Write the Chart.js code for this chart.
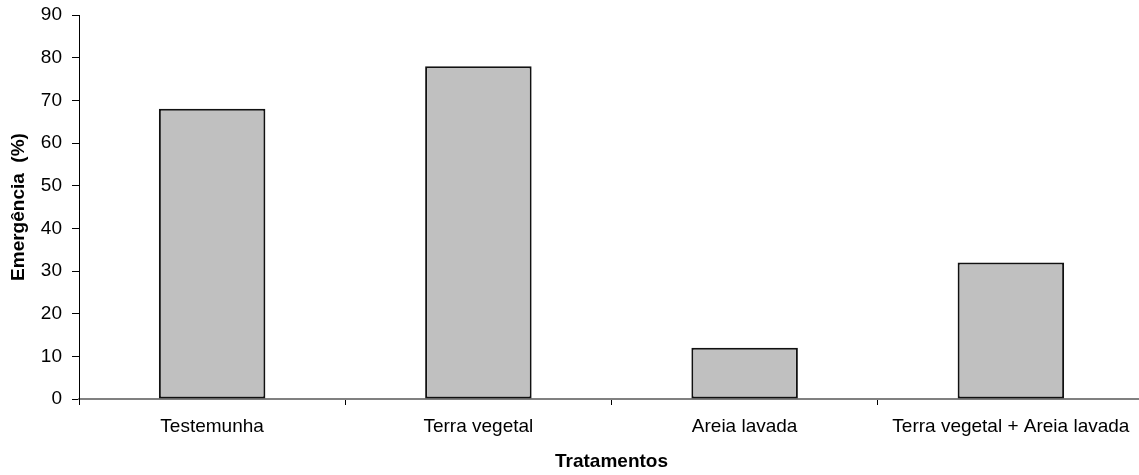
<!DOCTYPE html>
<html>
<head>
<meta charset="utf-8">
<script src="https://cdn.jsdelivr.net/npm/chart.js@4/dist/chart.umd.min.js"></script>
<style>
  html, body { margin: 0; padding: 0; background: #fff; overflow: hidden; }
  #wrap { width: 1146px; height: 475px; }
</style>
</head>
<body>
<div id="wrap"><canvas id="c" width="1146" height="475"></canvas></div>
<script>
const categories = ["Testemunha", "Terra vegetal", "Areia lavada", "Terra vegetal + Areia lavada"];
const emergencia = [68, 78, 12, 32];
const yTicks = [0, 10, 20, 30, 40, 50, 60, 70, 80, 90];

const FONT = "'Liberation Sans', Arial, sans-serif";

new Chart(document.getElementById('c'), {
  type: 'bar',
  data: {
    labels: categories,
    datasets: [{
      data: emergencia,
      backgroundColor: '#c0c0c0',
      borderColor: '#111111',
      borderWidth: 2,
      borderSkipped: false,
      categoryPercentage: 1.0,
      barPercentage: 0.4
    }]
  },
  options: {
    responsive: false,
    animation: false,
    devicePixelRatio: 1,
    layout: { padding: { top: 15, right: 2, left: 0, bottom: 0 } },
    plugins: { legend: { display: false }, tooltip: { enabled: false } },
    scales: {
      x: {
        offset: true,
        grid: { display: true, offset: true, drawOnChartArea: false, drawTicks: true, tickLength: 6, color: '#000000', lineWidth: 1 },
        border: { display: true, color: '#808080', width: 2 },
        ticks: { color: '#000', font: { family: FONT, size: 19 }, padding: 10, maxRotation: 0, autoSkip: false },
        title: { display: true, text: 'Tratamentos', color: '#000', font: { family: FONT, size: 19, weight: 'bold' }, padding: { top: 0, bottom: 2 } },
        afterFit: (s) => { s.height = 76; s.paddingLeft = 0; s.paddingRight = 0; }
      },
      y: {
        min: 0, max: 90,
        afterBuildTicks: (s) => { s.ticks = yTicks.map(v => ({ value: v })); },
        grid: { display: true, drawOnChartArea: false, drawTicks: true, tickLength: 7, color: '#000000', lineWidth: 1 },
        border: { display: true, color: '#000000', width: 1 },
        ticks: { color: '#000', font: { family: FONT, size: 19 }, padding: 10 },
        title: { display: true, text: 'Emergência  (%)', color: '#000', font: { family: FONT, size: 19, weight: 'bold' }, padding: { top: 7, bottom: 0 } },
        afterFit: (s) => { s.width = 79; s.paddingTop = 0; s.paddingBottom = 0; }
      }
    }
  }
});
</script>
</body>
</html>
